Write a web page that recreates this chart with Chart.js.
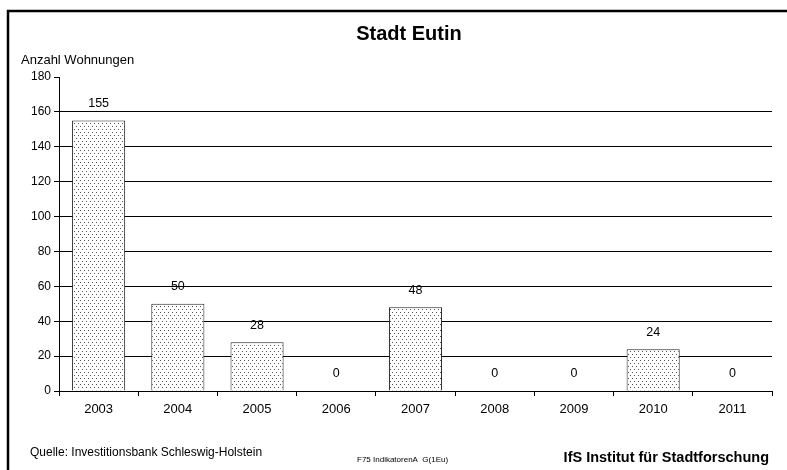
<!DOCTYPE html>
<html>
<head>
<meta charset="utf-8">
<script src="https://cdn.jsdelivr.net/npm/chart.js@4.4.1/dist/chart.umd.min.js"></script>
<style>
  body { margin: 0; background: #fff; }
  canvas { display: block; }
</style>
</head>
<body>
<canvas id="chart" width="787" height="470"></canvas>
<script>
const years = ['2003', '2004', '2005', '2006', '2007', '2008', '2009', '2010', '2011'];
const dwellings = [155, 50, 28, 0, 48, 0, 0, 24, 0];
const yTicks = { min: 0, max: 180, step: 20 };

const font = '"Liberation Sans", Arial, sans-serif';

// dotted fill like the original print pattern
function dotPattern() {
    const c = document.createElement('canvas');
    c.width = 4;
    c.height = 6;
    const g = c.getContext('2d');
    g.fillStyle = '#fff';
    g.fillRect(0, 0, 4, 6);
    g.fillStyle = '#555';
    g.fillRect(0, 0, 1, 1);
    g.fillRect(2, 3, 1, 1);
    return g.createPattern(c, 'repeat');
}

const extras = {
    id: 'extras',
    afterDraw(chart) {
        const ctx = chart.ctx;
        ctx.save();
        // frame (top and left edge only)
        ctx.strokeStyle = '#000';
        ctx.lineWidth = 2.5;
        ctx.beginPath();
        ctx.moveTo(787, 11);
        ctx.lineTo(8, 11);
        ctx.lineTo(8, 470);
        ctx.stroke();

        ctx.fillStyle = '#000';
        ctx.textBaseline = 'alphabetic';
        ctx.textAlign = 'center';
        ctx.font = 'bold 20px ' + font;
        ctx.fillText('Stadt Eutin', 409, 40);

        ctx.textAlign = 'left';
        ctx.font = '13px ' + font;
        ctx.fillText('Anzahl Wohnungen', 21, 64);

        ctx.font = '12px ' + font;
        ctx.fillText('Quelle: Investitionsbank Schleswig-Holstein', 30, 456);

        ctx.font = '8px ' + font;
        ctx.fillText('F75 IndikatorenA  G(1Eu)', 357, 462);

        ctx.textAlign = 'right';
        ctx.font = 'bold 14.5px ' + font;
        ctx.fillText('IfS Institut für Stadtforschung', 769, 462);

        // value labels above bars
        const meta = chart.getDatasetMeta(0);
        ctx.textAlign = 'center';
        ctx.textBaseline = 'middle';
        ctx.font = '12.5px ' + font;
        meta.data.forEach((bar, i) => {
            ctx.fillText(String(dwellings[i]), bar.x, bar.y - 17);
        });
        ctx.restore();
    }
};

new Chart(document.getElementById('chart'), {
    type: 'bar',
    data: {
        labels: years,
        datasets: [{
            data: dwellings,
            backgroundColor: dotPattern(),
            borderColor: '#222',
            borderWidth: 1,
            barPercentage: 0.67,
            categoryPercentage: 1
        }]
    },
    options: {
        responsive: false,
        devicePixelRatio: 1,
        animation: false,
        layout: { padding: { top: 77, right: 15, left: 0, bottom: 0 } },
        plugins: {
            legend: { display: false },
            tooltip: { enabled: false }
        },
        scales: {
            x: {
                grid: { drawOnChartArea: false, drawTicks: true, tickLength: 5, tickColor: '#000', offset: true },
                border: { color: '#000', width: 1 },
                ticks: { color: '#000', font: { family: font, size: 13 }, padding: 6 },
                afterFit(scale) { scale.height = 79; }
            },
            y: {
                min: yTicks.min,
                max: yTicks.max,
                grid: {
                    color: c => c.tick && c.tick.value === yTicks.max ? 'rgba(0,0,0,0)' : '#000',
                    lineWidth: 1, tickLength: 5, tickColor: '#000'
                },
                border: { color: '#000', width: 1 },
                ticks: { stepSize: yTicks.step, color: '#000', font: { family: font, size: 12 }, padding: 3 },
                afterFit(scale) { scale.width = 59; }
            }
        }
    },
    plugins: [extras]
});
</script>
</body>
</html>
